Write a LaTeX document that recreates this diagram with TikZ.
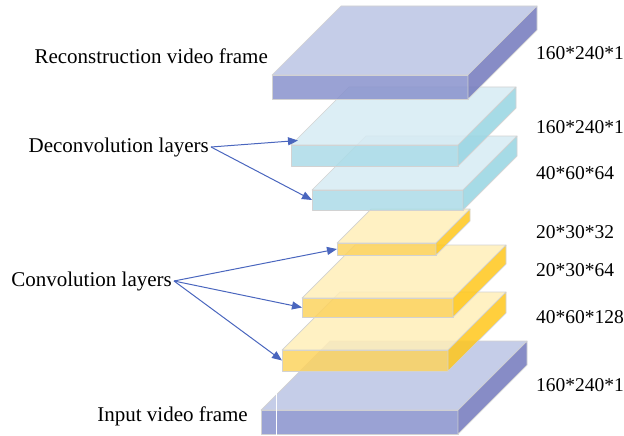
\documentclass[tikz,border=0pt]{standalone}
\usepackage{fontspec}
\setmainfont{Liberation Serif}
\usetikzlibrary{arrows.meta}

\definecolor{frametop}{HTML}{BBC4E4}
\definecolor{framefront}{HTML}{8892CD}
\definecolor{frameside}{HTML}{7278BC}
\definecolor{deconvtop}{HTML}{D6EBF3}
\definecolor{deconvfront}{HTML}{ABDBE8}
\definecolor{deconvside}{HTML}{97D5E2}
\definecolor{convtop}{HTML}{FFEEB8}
\definecolor{convfront}{HTML}{FCD35F}
\definecolor{convside}{HTML}{FFC71B}
\definecolor{edgegray}{HTML}{D2D2D2}
\definecolor{arrowblue}{HTML}{4A66BE}

\begin{document}
\begin{tikzpicture}[x=1pt, y=-1pt,
    slab/.style={draw=edgegray, line width=0.7pt, fill opacity=0.85, line join=round},
    lbl/.style={font=\fontsize{21}{24}\selectfont, inner sep=2pt, anchor=east},
    dim/.style={font=\fontsize{19.5}{24}\selectfont, inner sep=0pt, anchor=west},
    arr/.style={draw=arrowblue, line width=1pt, -{Triangle[length=10pt, width=8pt]}}]
  \useasboundingbox (0,0) rectangle (624,436);
  % --- slabs, bottom to top: front, top and side face ---
  \foreach \nm/\x/\y/\w/\h/\d/\col in {
      inp/261/410/197/24/69/frame,
      con3/282/350/166/21/58/conv,
      con2/302/298/151/19/53/conv,
      con1/337/243/99/12/34/conv,
      dec2/312/190/151/20/54/deconv,
      dec1/291/145/167/21/58/deconv,
      rec/272/75/196/24/69/frame}
    {\draw[slab, fill=\col front] (\x,\y) rectangle ++(\w,\h);
     \draw[slab, fill=\col top] (\x,\y) -- ++(\d,-\d) -- ++(\w,0) -- ++(-\d,\d) -- cycle;
     \draw[slab, fill=\col side] (\x+\w,\y) -- ++(\d,-\d) -- ++(0,\h) -- ++(-\d,\d) -- cycle;
     \coordinate (\nm) at (\x,\y+\h/2);}
  \draw[white, line width=1pt] (276,387) -- (276,436);
  % --- labels ---
  \node[lbl] (reclbl) at (270,56) {Reconstruction video frame};
  \node[lbl] (declbl) at (211,147) {Deconvolution layers};
  \node[lbl] (conlbl) at (174,281) {Convolution layers};
  \node[lbl] (inplbl) at (250,416) {Input video frame};
  \foreach \y/\t in {53/160*240*1, 127/160*240*1, 173/40*60*64, 232/20*30*32,
      270/20*30*64, 317/40*60*128, 385/160*240*1}
    \node[dim] (dim\y) at (536,\y) {\t};
  % --- arrows ---
  \draw[arr] (declbl.east) -- ([shift={(7,-15)}]dec1);
  \draw[arr] (declbl.east) -- (dec2);
  \foreach \s in {con1, con2, con3}
    \draw[arr] (conlbl.east) -- (\s);
\end{tikzpicture}
\end{document}
